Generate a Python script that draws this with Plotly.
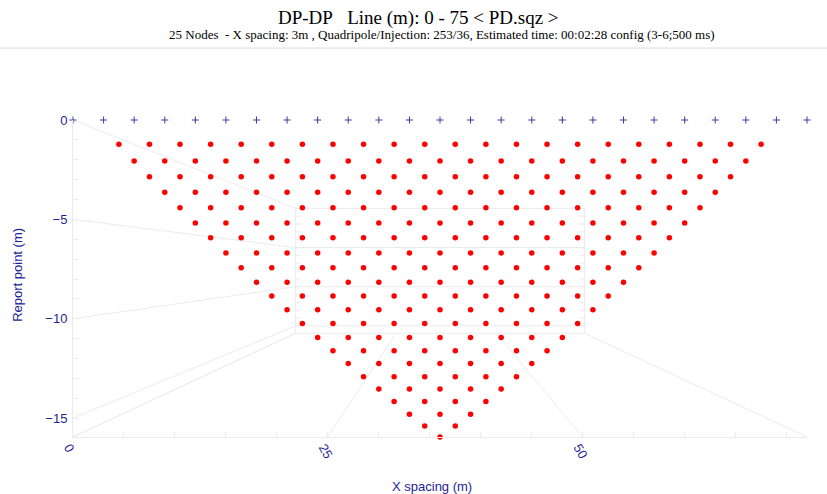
import plotly.graph_objects as go

# Electrode positions along the line (m), 25 nodes at 3 m spacing
electrodes = [0, 3, 6, 9, 12, 15, 18, 21, 24, 27, 30, 33, 36,
              39, 42, 45, 48, 51, 54, 57, 60, 63, 66, 69, 72]

# Pseudo-depth of each DP-DP level n = 1..22 (m)
level_depths = [-1.22, -2.06, -2.85, -3.63, -4.41, -5.18, -5.93, -6.69,
                -7.43, -8.16, -8.85, -9.55, -10.24, -10.94, -11.61, -12.25,
                -12.92, -13.54, -14.16, -14.80, -15.40, -15.95]

x_ticks = [0, 25, 50]
y_ticks = [0, -5, -10, -15]

title_text = "DP-DP\u00a0\u00a0\u00a0Line (m): 0 - 75 < PD.sqz >"
subtitle_text = ("25 Nodes\u00a0\u00a0- X spacing: 3m , Quadripole/Injection: 253/36, "
                 "Estimated time: 00:02:28 config (3-6;500 ms)")

# Quadrupole report points: centre of the outer electrodes of each array
qx, qy = [], []
for n, depth in enumerate(level_depths, start=1):
    span = n + 2
    for i in range(len(electrodes) - span):
        qx.append((electrodes[i] + electrodes[i + span]) / 2)
        qy.append(depth)

x_min, x_max = electrodes[0], electrodes[-1]
y_min, y_max = level_depths[-1], 0

# Pseudo-3D box: back wall is the front frame shrunk toward a vanishing point
vp_x, vp_y, depth_scale = (x_min + x_max) / 2, -7.34, 0.394


def back(x, y):
    return vp_x + depth_scale * (x - vp_x), vp_y + depth_scale * (y - vp_y)


grid_col = "#ebebeb"
axis_col = "#1e1e96"
shapes = []


def seg(p0, p1):
    shapes.append(dict(type="line", xref="x", yref="y", x0=p0[0], y0=p0[1],
                       x1=p1[0], y1=p1[1], layer="below",
                       line=dict(color=grid_col, width=1)))


# left wall: horizontal grid lines running back
for yv in y_ticks + [y_min]:
    seg((x_min, yv), back(x_min, yv))
# floor: x grid lines running back
for xv in [x_min] + x_ticks[1:] + [x_max]:
    seg((xv, y_min), back(xv, y_min))
# back wall frame and grid
bl, tr = back(x_min, y_min), back(x_max, y_max)
seg((bl[0], bl[1]), (bl[0], tr[1]))
seg((tr[0], bl[1]), (tr[0], tr[1]))
seg((bl[0], tr[1]), (tr[0], tr[1]))
seg((bl[0], bl[1]), (tr[0], bl[1]))
for yv in y_ticks[1:]:
    a, b = back(x_min, yv), back(x_max, yv)
    seg(a, b)
# small ticks on the back wall edges every metre
for yv in range(0, int(y_min) - 1, -1):
    if yv < y_min:
        break
    a = back(x_min, yv)
    b = back(x_max, yv)
    seg(a, (a[0] + 0.5, a[1]))
    seg(b, (b[0] - 0.5, b[1]))

# separator under the header
shapes.append(dict(type="line", xref="paper", yref="paper",
                   x0=-73 / 734, x1=(827 - 73) / 734, y0=1.227, y1=1.227,
                   line=dict(color="#dcdcdc", width=1)))

fig = go.Figure()
fig.add_trace(go.Scatter(
    x=qx, y=qy, mode="markers", cliponaxis=False,
    marker=dict(color="#ff0000", size=5.5, line=dict(width=0)),
    hoverinfo="x+y", showlegend=False))
fig.add_trace(go.Scatter(
    x=electrodes, y=[0] * len(electrodes), mode="markers", cliponaxis=False,
    marker=dict(symbol="cross-thin", size=5, line=dict(color="#3a3aa8", width=1)),
    hoverinfo="x", showlegend=False))

fig.update_layout(
    width=827, height=494,
    margin=dict(l=73, r=20, t=120, b=57),
    paper_bgcolor="white", plot_bgcolor="white",
    shapes=shapes,
    annotations=[
        dict(text=title_text, xref="paper", yref="paper",
             x=(418 - 73) / 734, y=1 + (120 - 18) / 317.3,
             xanchor="center", yanchor="middle", showarrow=False,
             font=dict(family="Liberation Serif, Times New Roman, serif",
                       size=19, color="#000000")),
        dict(text=subtitle_text, xref="paper", yref="paper",
             x=(442 - 73) / 734, y=1 + (120 - 34) / 317.3,
             xanchor="center", yanchor="middle", showarrow=False,
             font=dict(family="Liberation Serif, Times New Roman, serif",
                       size=13, color="#000000")),
        dict(text="Report point (m)", xref="paper", yref="paper",
             x=(18 - 73) / 734, y=1 - (275 - 120) / 317.3, textangle=-90,
             xanchor="center", yanchor="middle", showarrow=False,
             font=dict(family="Liberation Sans, Arial, sans-serif",
                       size=13, color=axis_col)),
        dict(text="X spacing (m)", xref="paper", yref="paper",
             x=(432 - 73) / 734, y=-(487 - 437.3) / 317.3,
             xanchor="center", yanchor="middle", showarrow=False,
             font=dict(family="Liberation Sans, Arial, sans-serif",
                       size=13, color=axis_col)),
    ],
    xaxis=dict(range=[x_min, x_max], tickvals=x_ticks, tickangle=60,
               showgrid=False, zeroline=False, showline=True,
               linecolor=grid_col, linewidth=1,
               ticks="inside", ticklen=5, tickcolor=grid_col,
               minor=dict(dtick=5, tick0=0, ticks="inside", ticklen=5,
                          tickcolor=grid_col, showgrid=False),
               ticklabelshift=-4, ticklabelstandoff=-3,
               tickfont=dict(family="Liberation Sans, Arial, sans-serif",
                             size=13, color=axis_col)),
    yaxis=dict(range=[y_min, y_max], tickvals=y_ticks,
               showgrid=False, zeroline=False, showline=True,
               linecolor=grid_col, linewidth=1,
               ticks="inside", ticklen=5, tickcolor=grid_col,
               minor=dict(dtick=1, tick0=0, ticks="inside", ticklen=5,
                          tickcolor=grid_col, showgrid=False),
               ticklabelstandoff=2,
               tickfont=dict(family="Liberation Sans, Arial, sans-serif",
                             size=13, color=axis_col)),
)

fig.write_html("out.html")
